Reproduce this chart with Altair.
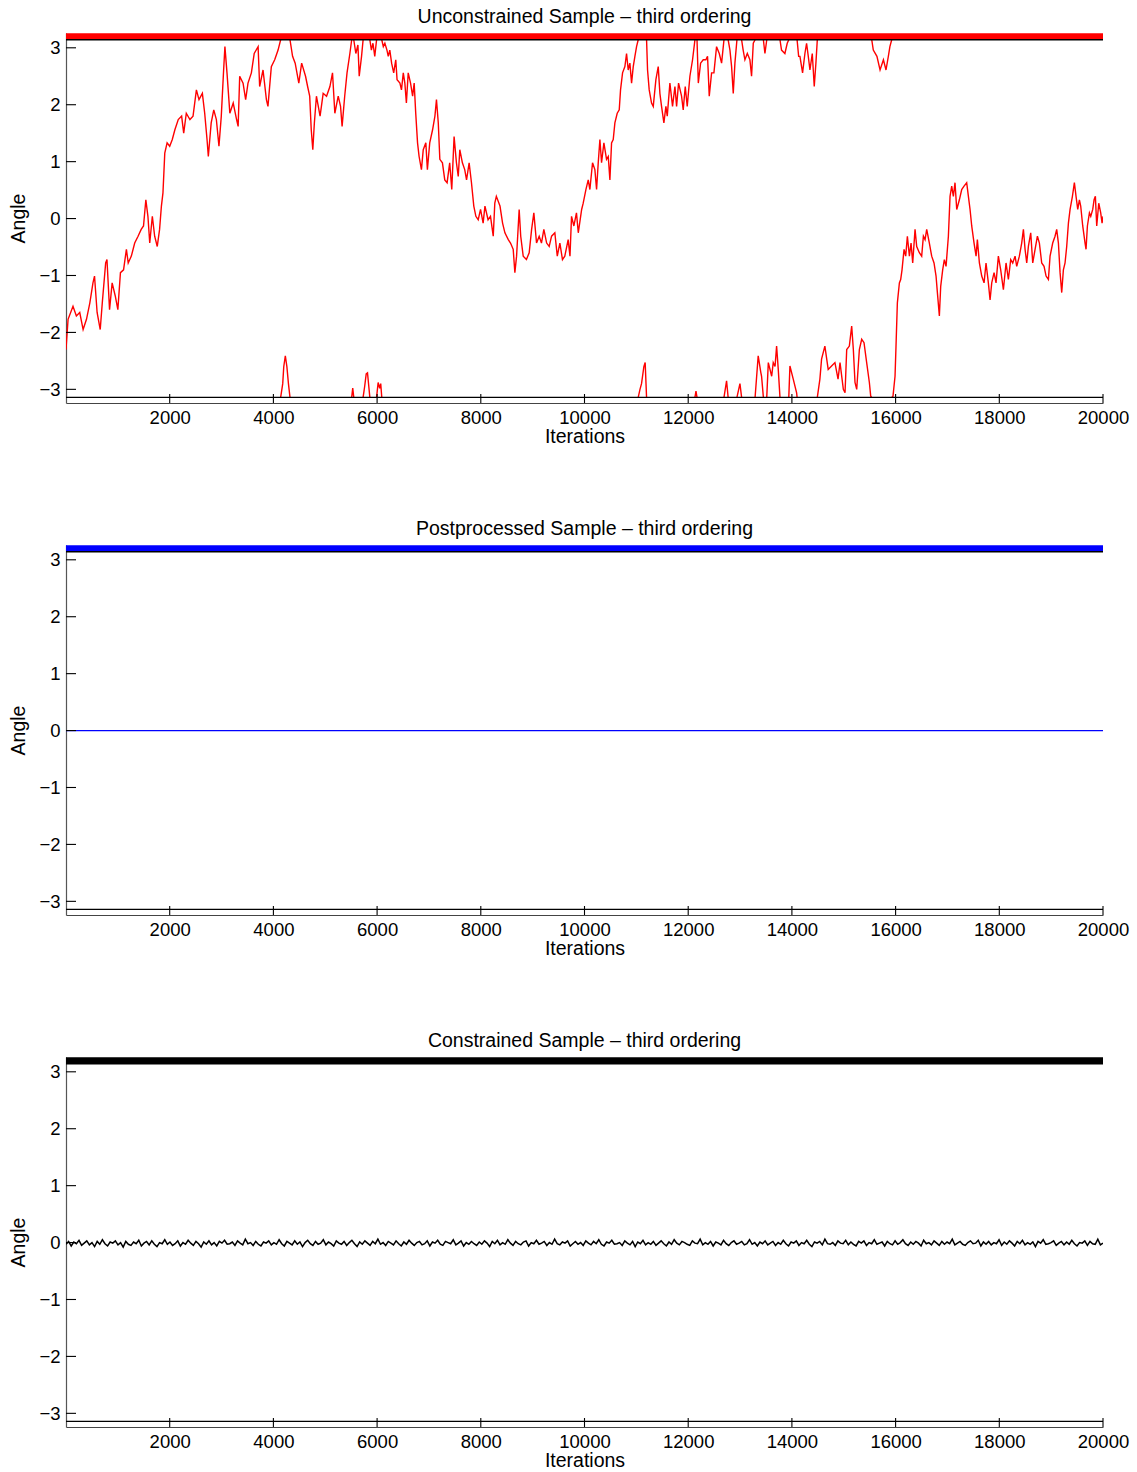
import altair as alt
import pandas as pd

TITLES = ["Unconstrained Sample \u2013 third ordering",
          "Postprocessed Sample \u2013 third ordering",
          "Constrained Sample \u2013 third ordering"]
COLORS = ["#ff0000", "#0000ff", "#000000"]
X_TICKS = [2000, 4000, 6000, 8000, 10000, 12000, 14000, 16000, 18000, 20000]
Y_TICKS = [-3, -2, -1, 0, 1, 2, 3]
X_DOMAIN = [0, 20000]
Y_DOMAIN = [-3.24, 3.26]
PI_LINES = [-3.14159, 3.14159]
BAND_LEVEL = 3.2

# Unconstrained trace (wrapped to [-pi, pi]); None marks a wrap break
U_POINTS = [
    [0, -2.3], [40, -1.77], [135, -1.54], [200, -1.71], [265, -1.65], [330, -1.95], [395, -1.77],
    [460, -1.48], [520, -1.13], [550, -1.01], [600, -1.65], [660, -1.95], [700, -1.48], [765, -0.78],
    [790, -0.72], [840, -1.6], [890, -1.13], [950, -1.36], [1000, -1.6], [1050, -0.95], [1110, -0.9],
    [1165, -0.54], [1200, -0.78], [1260, -0.66], [1325, -0.43], [1390, -0.31], [1450, -0.19],
    [1495, -0.13], [1540, 0.33], [1580, 0.04], [1615, -0.43], [1665, 0.04], [1710, -0.31],
    [1760, -0.49], [1805, -0.19], [1840, 0.22], [1870, 0.45], [1905, 1.15], [1950, 1.33],
    [2000, 1.27], [2050, 1.39], [2100, 1.56], [2165, 1.74], [2230, 1.8], [2270, 1.5], [2320, 1.85],
    [2390, 1.74], [2450, 1.8], [2515, 2.26], [2565, 2.09], [2630, 2.2], [2675, 1.85], [2720, 1.39],
    [2745, 1.09], [2800, 1.68], [2850, 1.91], [2900, 1.74], [2950, 1.27], [2995, 1.8], [3040, 2.61],
    [3065, 3.02], [3105, 2.56], [3160, 1.85], [3225, 2.03], [3290, 1.74], [3320, 1.62], [3350, 2.5],
    [3415, 2.38], [3465, 2.09], [3510, 2.38], [3575, 2.56], [3630, 2.9], [3705, 3.02], [3735, 2.32],
    [3800, 2.61], [3865, 2.09], [3895, 1.97], [3960, 2.67], [4025, 2.79], [4090, 2.96], [4140, 3.1416],
    None,
    [4140, -3.1416], [4180, -2.9], [4200, -2.6], [4230, -2.41], [4260, -2.6], [4290, -2.9], [4320, -3.1416],
    None,
    [4320, 3.1416], [4370, 2.85], [4420, 2.73], [4490, 2.38], [4545, 2.73], [4620, 2.5], [4660, 2.32],
    [4700, 2.15], [4730, 1.56], [4760, 1.21], [4790, 1.68], [4830, 2.15], [4900, 1.8], [4960, 2.2],
    [5025, 2.15], [5090, 2.32], [5140, 2.56], [5185, 1.85], [5250, 2.15], [5295, 1.97], [5325, 1.62],
    [5375, 2.15], [5420, 2.56], [5475, 2.9], [5510, 3.1416],
    None,
    [5510, -3.1416], [5530, -2.98], [5550, -3.1416],
    None,
    [5550, 3.1416], [5590, 2.9], [5630, 3.05], [5655, 2.5], [5700, 2.85], [5730, 3.1416],
    None,
    [5730, -3.1416], [5760, -2.95], [5790, -2.73], [5815, -2.71], [5840, -2.95], [5860, -3.1416],
    None,
    [5860, 3.1416], [5890, 2.96], [5920, 3.08], [5955, 2.85], [5990, 3.1416],
    None,
    [5990, -3.1416], [6020, -2.88], [6050, -2.98], [6070, -2.9], [6090, -3.1416],
    None,
    [6090, 3.1416], [6120, 3.02], [6150, 3.08], [6190, 2.96], [6215, 2.85], [6245, 2.96], [6280, 2.73],
    [6320, 2.56], [6360, 2.79], [6385, 2.44], [6440, 2.38], [6470, 2.26], [6505, 2.56], [6535, 2.38],
    [6565, 2.03], [6600, 2.56], [6645, 2.38], [6685, 2.15], [6715, 2.38], [6745, 1.85], [6780, 1.33],
    [6810, 1.09], [6855, 0.86], [6890, 1.21], [6940, 1.33], [6970, 0.86], [7015, 1.33], [7070, 1.56],
    [7115, 1.8], [7145, 2.09], [7180, 1.68], [7210, 1.04], [7260, 0.98], [7305, 0.68], [7350, 0.63],
    [7400, 0.98], [7440, 0.51], [7485, 1.44], [7530, 0.98], [7565, 0.74], [7595, 1.21], [7645, 0.98],
    [7690, 0.86], [7725, 0.68], [7775, 0.98], [7820, 0.63], [7865, 0.22], [7905, 0.04], [7950, -0.02],
    [7995, 0.16], [8045, -0.08], [8080, 0.22], [8140, -0.02], [8187, 0.04], [8240, -0.31], [8270, 0.27],
    [8300, 0.39], [8370, 0.22], [8420, -0.08], [8465, -0.25], [8530, -0.37], [8573, -0.43],
    [8625, -0.54], [8657, -0.95], [8690, -0.66], [8740, 0.16], [8770, -0.31], [8818, -0.66],
    [8880, -0.72], [8933, -0.6], [8980, -0.19], [9023, 0.1], [9075, -0.43], [9126, -0.31],
    [9170, -0.43], [9216, -0.19], [9270, -0.43], [9319, -0.49], [9365, -0.31], [9428, -0.25],
    [9475, -0.66], [9525, -0.43], [9575, -0.72], [9620, -0.66], [9685, -0.37], [9720, -0.66],
    [9750, 0.04], [9795, -0.13], [9845, 0.1], [9880, -0.25], [9945, 0.16], [9975, 0.27],
    [10027, 0.51], [10072, 0.68], [10104, 0.51], [10155, 0.98], [10200, 0.86], [10233, 0.51],
    [10265, 0.98], [10297, 1.39], [10329, 0.98], [10374, 1.33], [10425, 1.04], [10458, 1.09],
    [10490, 0.68], [10522, 1.33], [10554, 1.39], [10586, 1.68], [10631, 1.85], [10670, 1.91],
    [10695, 2.26], [10734, 2.56], [10779, 2.67], [10811, 2.9], [10843, 2.61], [10875, 2.73],
    [10908, 2.38], [10940, 2.67], [10972, 2.85], [11004, 3.02], [11036, 3.1416],
    None,
    [11036, -3.1416], [11070, -3.0], [11100, -2.9], [11145, -2.6], [11170, -2.53], [11197, -3.1416],
    None,
    [11197, 3.1416], [11216, 2.61], [11248, 2.26], [11293, 2.03], [11326, 1.97], [11377, 2.44],
    [11422, 2.67], [11454, 2.2], [11486, 1.97], [11531, 1.68], [11570, 1.97], [11596, 1.8],
    [11647, 2.38], [11698, 1.97], [11744, 2.32], [11776, 1.97], [11814, 2.38], [11872, 2.15],
    [11904, 1.91], [11943, 2.32], [11981, 1.97], [12033, 2.5], [12084, 2.79], [12130, 3.1416],
    None,
    [12130, -3.1416], [12150, -3.03], [12170, -3.1416],
    None,
    [12170, 3.1416], [12195, 2.38], [12239, 2.73], [12290, 2.79], [12341, 2.79], [12373, 2.85],
    [12406, 2.15], [12451, 2.56], [12496, 2.56], [12547, 3.02], [12599, 2.9], [12644, 2.73],
    [12690, 3.1416],
    None,
    [12690, -3.1416], [12740, -2.85], [12770, -3.1416],
    None,
    [12770, 3.1416], [12805, 2.96], [12837, 2.67], [12869, 2.2], [12901, 2.73], [12940, 3.1416],
    None,
    [12940, -3.1416], [12998, -2.9], [13030, -3.1416],
    None,
    [13030, 3.1416], [13060, 2.96], [13094, 2.79], [13140, 2.9], [13190, 2.79], [13222, 2.5],
    [13255, 3.08], [13290, 3.1416],
    None,
    [13290, -3.1416], [13350, -2.41], [13400, -2.7], [13415, -2.77], [13450, -3.1416],
    None,
    [13450, 3.1416], [13480, 2.9], [13515, 3.1416],
    None,
    [13515, -3.1416], [13545, -2.53], [13610, -2.77], [13640, -2.53], [13675, -2.6], [13705, -2.24],
    [13737, -2.65], [13770, -3.1416],
    None,
    [13770, 3.1416], [13800, 2.96], [13865, 2.9], [13910, 3.08], [13940, 3.1416],
    None,
    [13940, -3.1416], [13962, -2.59], [14026, -2.82], [14091, -3.06], [14100, -3.1416],
    None,
    [14100, 3.1416], [14130, 2.85], [14155, 2.85], [14206, 2.56], [14251, 2.9], [14283, 3.08],
    [14316, 2.85], [14348, 2.61], [14393, 2.9], [14431, 2.32], [14463, 2.73], [14490, 3.1416],
    None,
    [14490, -3.1416], [14540, -2.82], [14572, -2.47], [14636, -2.24], [14700, -2.65], [14765, -2.59],
    [14830, -2.53], [14890, -2.82], [14928, -2.53], [14992, -3.0], [15025, -3.06], [15057, -2.3],
    [15108, -2.24], [15153, -1.89], [15185, -2.3], [15217, -2.88], [15250, -3.0], [15301, -2.3],
    [15346, -2.12], [15391, -2.18], [15442, -2.53], [15494, -2.88], [15520, -3.12], [15540, -3.1416],
    None,
    [15540, 3.1416], [15570, 2.96], [15640, 2.85], [15700, 2.61], [15765, 2.79], [15815, 2.61],
    [15860, 2.85], [15890, 3.02], [15925, 3.1416],
    None,
    [15925, -3.1416], [15950, -3.12], [15989, -2.77], [16008, -2.24], [16034, -1.48], [16073, -1.13],
    [16098, -1.07], [16124, -0.9], [16163, -0.54], [16195, -0.66], [16227, -0.31], [16266, -0.66],
    [16298, -0.43], [16330, -0.78], [16375, -0.19], [16407, -0.49], [16458, -0.6], [16503, -0.66],
    [16536, -0.31], [16568, -0.37], [16600, -0.19], [16651, -0.43], [16696, -0.66], [16741, -0.78],
    [16780, -1.01], [16806, -1.3], [16844, -1.71], [16870, -1.19], [16908, -0.9], [16940, -0.72],
    [16973, -0.84], [17018, -0.31], [17050, 0.39], [17082, 0.57], [17114, 0.39], [17146, 0.63],
    [17179, 0.16], [17230, 0.33], [17275, 0.51], [17320, 0.57], [17371, 0.63], [17404, 0.39],
    [17436, 0.16], [17468, -0.13], [17513, -0.43], [17552, -0.66], [17577, -0.37], [17616, -0.78],
    [17661, -1.01], [17706, -1.13], [17744, -0.78], [17789, -1.13], [17822, -1.43], [17854, -1.13],
    [17899, -0.95], [17937, -1.13], [17982, -0.66], [18027, -0.9], [18079, -1.25], [18130, -0.78],
    [18175, -1.07], [18220, -0.72], [18259, -0.78], [18304, -0.66], [18336, -0.84], [18387, -0.66],
    [18432, -0.43], [18465, -0.19], [18497, -0.54], [18529, -0.78], [18561, -0.49], [18606, -0.25],
    [18645, -0.78], [18690, -0.54], [18735, -0.31], [18773, -0.43], [18818, -0.78], [18863, -0.84],
    [18902, -1.01], [18947, -1.07], [18979, -0.66], [19030, -0.43], [19075, -0.31], [19107, -0.19],
    [19140, -0.43], [19172, -0.95], [19204, -1.3], [19236, -0.9], [19268, -0.78], [19300, -0.49],
    [19333, -0.08], [19365, 0.16], [19410, 0.39], [19448, 0.63], [19480, 0.39], [19513, 0.16],
    [19545, 0.33], [19570, 0.22], [19609, -0.13], [19654, -0.43], [19673, -0.54], [19699, -0.13],
    [19738, 0.1], [19764, 0.04], [19802, 0.16], [19828, 0.33], [19853, 0.39], [19879, -0.13],
    [19918, 0.27], [19956, 0.1], [19982, -0.08], [20000, 0.04],
]

# Postprocessed trace: flat at zero
P_ITER = [0, 20000]
P_ANGLE = [0.0, 0.0]

# Constrained trace: small jitter around zero (hundredths of a radian), evenly spread over the run
C_HUNDREDTHS = [
    -3, 2, -6, 1, -2, 4, -5, -1, 3, -4, 0, -7, 2, -3, 5, -2, -6, 1, -1, 3,
    -4, 0, -8, 2, -3, -5, 1, -2, 4, -6, -1, 2, -4, 3, -3, -7, 0, -2, 5, -3,
    1, -5, -2, 3, -6, 0, -3, 4, -1, -5, 2, -2, -8, 1, -3, 3, -4, 0, -6, 2,
    -1, 4, -3, -2, 1, -5, 3, -1, -4, 6, -2, 0, -5, 2, -3, -6, 1, -1, 3, -4,
    0, -3, 5, -2, -6, 2, -1, -4, 3, -3, 1, -7, 0, 4, -2, -5, 2, -3, -1, 5,
    -4, 1, -2, -6, 3, -1, -3, 2, -5, 0, 4, -2, -7, 1, -3, 3, -1, -5, 2, -2,
    6, -3, 0, -5, 2, -1, -4, 3, -2, -6, 1, -3, 4, -1, -5, 0, 2, -4, -2, 3,
    -6, 1, -1, 4, -3, -5, 2, 0, -2, 5, -4, -1, 3, -6, 0, -3, 2, -2, -5, 1,
    -3, 3, -1, -7, 2, -2, 4, -4, 0, -3, 5, -1, -5, 2, -2, -4, 1, 3, -6, 0,
    -2, 4, -3, -1, 2, -5, 0, -3, 6, -2, -4, 1, -1, 3, -6, -2, 2, -3, 0, -5,
    3, -1, -4, 2, -2, 5, -3, -6, 1, -1, 4, -3, -2, 0, -5, 3, -1, -4, 2, -7,
    1, -2, 4, -4, 0, -3, 2, -5, -1, 3, -2, -6, 1, -3, 5, -1, -4, 2, 0, -3,
    -5, 3, -1, -2, 6, -4, 0, -3, 2, -6, 1, -1, -4, 4, -2, -5, 0, 3, -3, -1,
    2, -4, -2, 5, -3, 0, -6, 1, -2, 3, -4, -1, 2, -5, 0, -3, 4, -2, -6, 1,
    -1, 3, -5, 0, -2, 4, -3, -7, 1, -1, 2, -4, 6, -2, -3, 0, -5, 3, -1, -2,
    4, -4, 1, -3, -6, 2, -1, 3, -5, 0, -2, 5, -3, -1, 1, -6, 2, -2, -4, 3,
    -3, 0, 5, -2, -5, 1, -3, 2, -1, -6, 4, -2, 0, -4, 3, -1, -5, 2, -3, 1,
    -2, 6, -4, -1, 2, -3, -5, 0, 3, -2, -1, 4, -6, 1, -3, 2, -4, 0, -2, 5,
    -5, 1, -3, 3, -1, -6, 2, -2, 4, -4, 0, -3, 1, -7, 2, -1, 5, -3, -2, 0,
    3, -5, -1, 2, -4, 1, -3, 4, -2, -6, 0, -1, 3, -5, 2, -2, -3, 6, -4, -1,
]

W, H = 1037, 370
FONT = "Liberation Sans"


def unconstrained_df():
    rows, seg = [], 0
    for p in U_POINTS:
        if p is None:
            seg += 1
            continue
        rows.append({"it": p[0], "a": p[1], "seg": seg})
    return pd.DataFrame(rows)


def postprocessed_df():
    return pd.DataFrame({"it": P_ITER, "a": P_ANGLE, "seg": 0})


def constrained_df():
    n = len(C_HUNDREDTHS)
    its = [i * 20000 / (n - 1) for i in range(n)]
    return pd.DataFrame({"it": its, "a": [v / 100 for v in C_HUNDREDTHS], "seg": 0})


XS = alt.Scale(domain=X_DOMAIN, nice=False, zero=False)
YS = alt.Scale(domain=Y_DOMAIN, nice=False, zero=False)
X_AXIS = alt.Axis(values=X_TICKS, title="Iterations", ticks=False, grid=False, format="d",
                  labelPadding=5, titlePadding=1, domainColor="#444", domainWidth=1.2,
                  labelFlush=False, labelOverlap=False,
                  labelFontSize=18.5, titleFontSize=19.5, labelColor="#000", titleColor="#000",
                  titleFontWeight="normal", labelFont=FONT, titleFont=FONT)
Y_AXIS = alt.Axis(values=Y_TICKS, title="Angle", ticks=False, grid=False, format="d",
                  labelPadding=6, titlePadding=10, domainColor="#555", domainWidth=1.2,
                  labelFlush=False, labelOverlap=False,
                  labelFontSize=18.5, titleFontSize=19.5, labelColor="#000", titleColor="#000",
                  titleFontWeight="normal", labelFont=FONT, titleFont=FONT)


def panel(title, color, trace, width):
    line = alt.Chart(trace).mark_line(color=color, strokeWidth=width, clip=True).encode(
        x=alt.X("it:Q", scale=XS, axis=X_AXIS),
        y=alt.Y("a:Q", scale=YS, axis=Y_AXIS),
        detail="seg:N",
        order="it:Q",
    )
    band = alt.Chart(pd.DataFrame({"it": [X_DOMAIN[0]], "it2": [X_DOMAIN[1]], "a": [BAND_LEVEL]})).mark_rule(
        color=color, strokeWidth=6.5, strokeCap="butt").encode(
        x=alt.X("it:Q", scale=XS, axis=X_AXIS), x2="it2:Q", y=alt.Y("a:Q", scale=YS, axis=Y_AXIS))
    pilines = alt.Chart(pd.DataFrame({"it": [X_DOMAIN[0]] * 2, "it2": [X_DOMAIN[1]] * 2, "a": PI_LINES})).mark_rule(
        color="#000", strokeWidth=1.3, strokeCap="butt").encode(
        x=alt.X("it:Q", scale=XS, axis=X_AXIS), x2="it2:Q", y=alt.Y("a:Q", scale=YS, axis=Y_AXIS))
    yticks = alt.Chart(pd.DataFrame({"a": Y_TICKS})).mark_rule(color="#000", strokeWidth=1.1).encode(
        y=alt.Y("a:Q", scale=YS, axis=Y_AXIS), x=alt.value(0), x2=alt.value(10))
    xticks = alt.Chart(pd.DataFrame({"it": X_TICKS})).mark_rule(color="#000", strokeWidth=1.1).encode(
        x=alt.X("it:Q", scale=XS, axis=X_AXIS), y=alt.value(H), y2=alt.value(H - 9))

    return alt.layer(line, band, pilines, yticks, xticks).properties(
        width=W, height=H,
        title=alt.TitleParams(title, fontSize=19.5, fontWeight="normal", font=FONT, color="#000", offset=6),
    )


chart = alt.vconcat(
    panel(TITLES[0], COLORS[0], unconstrained_df(), 1.4),
    panel(TITLES[1], COLORS[1], postprocessed_df(), 1.3),
    panel(TITLES[2], COLORS[2], constrained_df(), 1.5),
    spacing=72,
).properties(
    padding={"left": 8, "top": 6, "right": 5, "bottom": 5}
).configure_view(strokeWidth=0, stroke="transparent")

chart.save("out.html", embed_options={"renderer": "svg", "actions": False})
